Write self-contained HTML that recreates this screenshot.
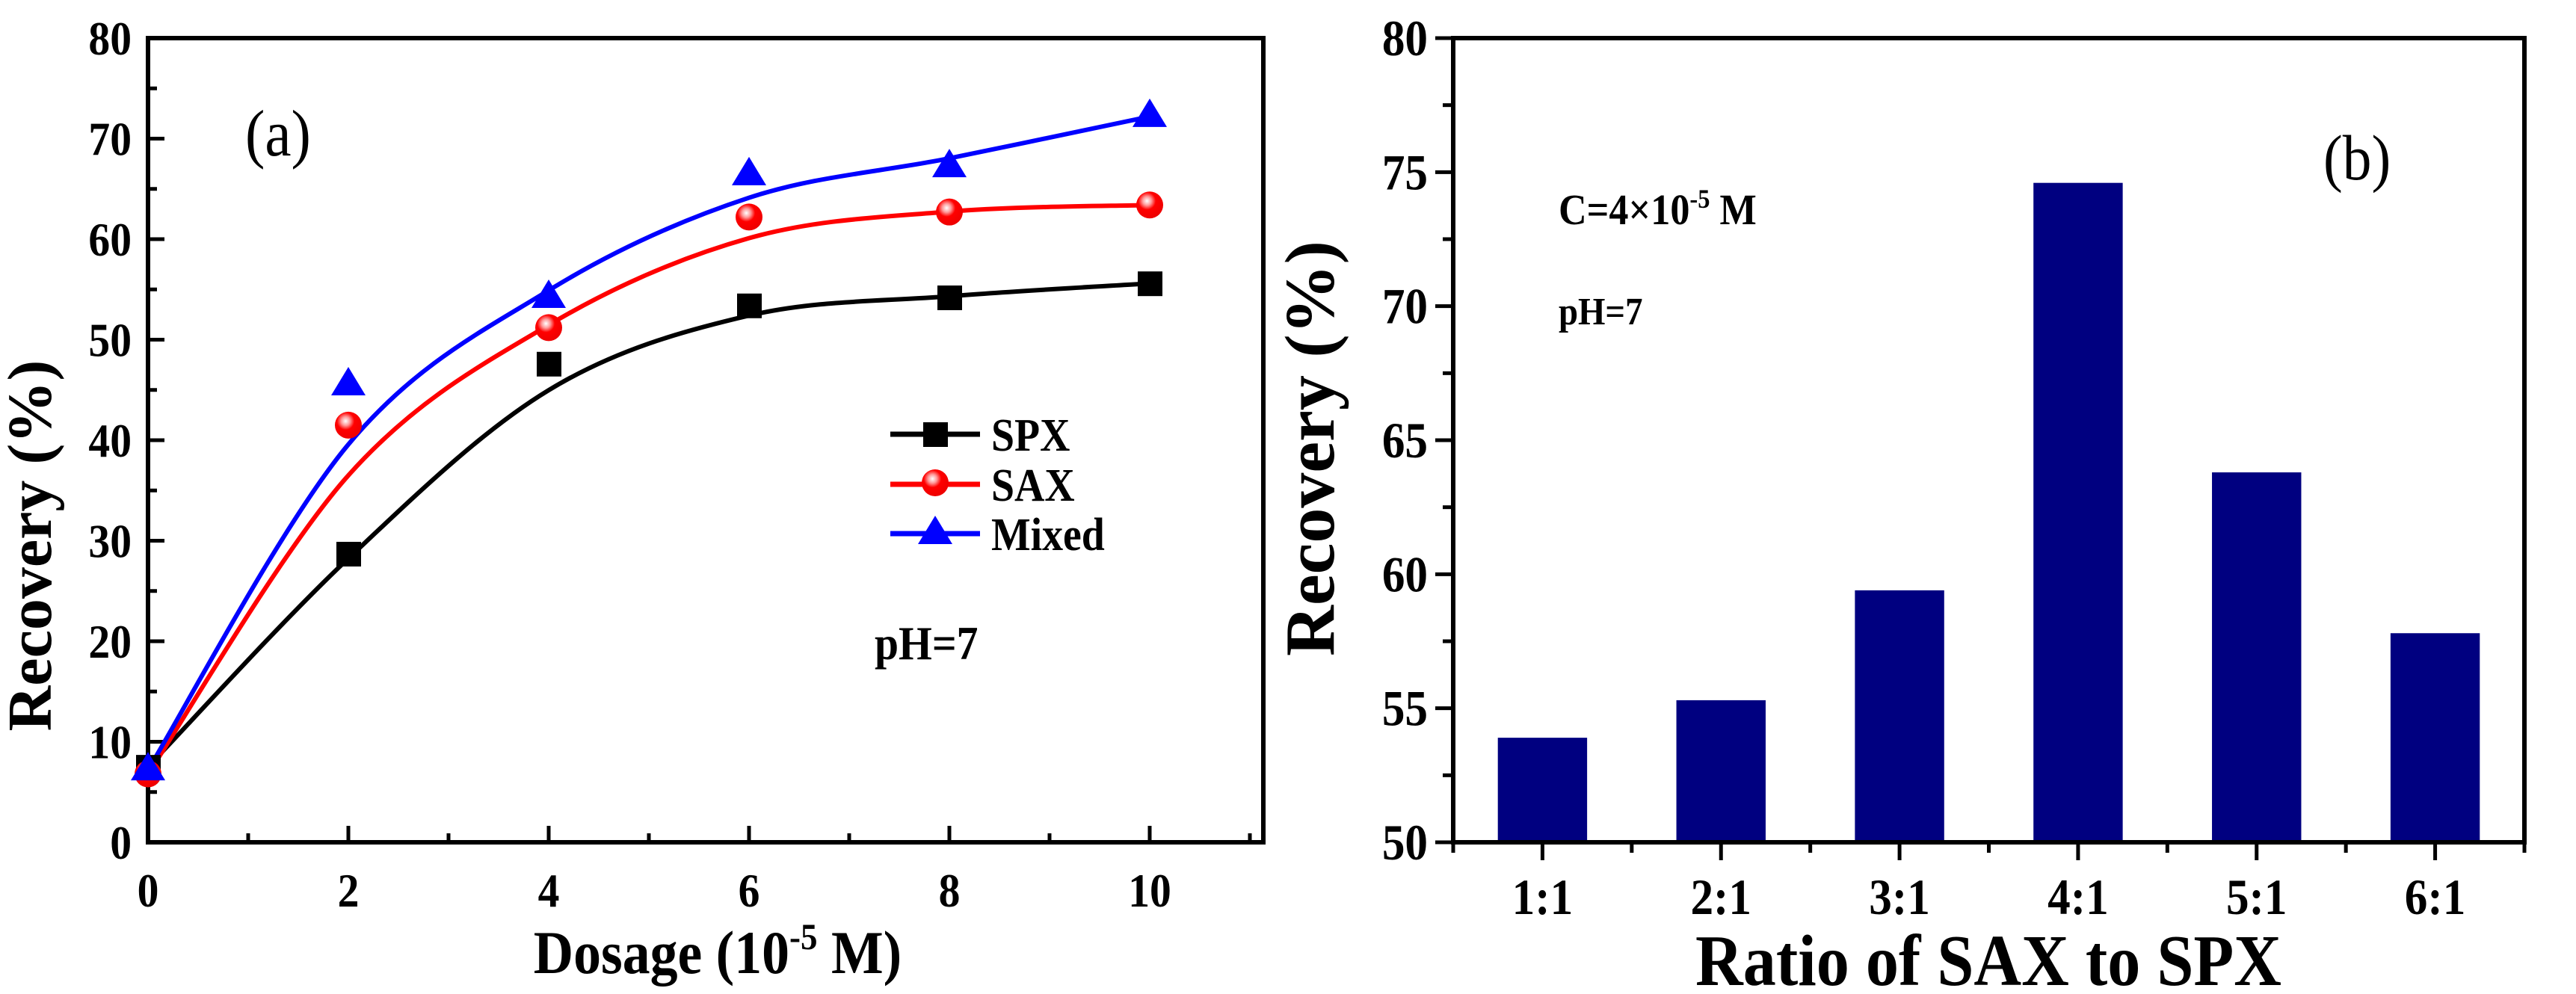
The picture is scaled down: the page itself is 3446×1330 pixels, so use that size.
<!DOCTYPE html>
<html><head><meta charset="utf-8">
<style>
html,body{margin:0;padding:0;background:#fff;}
svg{display:block;}
text{font-family:"Liberation Serif",serif;fill:#000;}
</style></head>
<body>
<svg id="fig" width="3446" height="1330" viewBox="0 0 3446 1330" xmlns="http://www.w3.org/2000/svg">
<defs>
<radialGradient id="ballGrad" cx="0.4" cy="0.35" r="0.65">
<stop offset="0" stop-color="#ffffff"/>
<stop offset="0.25" stop-color="#ff9a9a"/>
<stop offset="0.5" stop-color="#ff0000"/>
<stop offset="1" stop-color="#ee0000"/>
</radialGradient>
</defs>
<g id="panelA"></g>
<g id="panelB"></g>
</svg>
<script>
// ---- Panel (a) data ----
const dosage = [0, 2, 4, 6, 8, 10];
const spxValues = [7.5, 28.7, 47.6, 53.4, 54.2, 55.6];
const saxValues = [6.8, 41.5, 51.2, 62.2, 62.7, 63.4];
const mixedValues = [7.2, 45.5, 54.2, 66.4, 67.2, 72.2];
const aYTicks = [0, 10, 20, 30, 40, 50, 60, 70, 80];
const aXTicks = [0, 2, 4, 6, 8, 10];
// ---- Panel (b) data ----
const ratioLabels = ["1:1", "2:1", "3:1", "4:1", "5:1", "6:1"];
const ratioValues = [53.9, 55.3, 59.4, 74.6, 63.8, 57.8];
const bYTicks = [50, 55, 60, 65, 70, 75, 80];

const NS = "http://www.w3.org/2000/svg";
function mk(tag, attrs, parent) {
  const e = document.createElementNS(NS, tag);
  for (const k in attrs) e.setAttribute(k, attrs[k]);
  parent.appendChild(e);
  return e;
}
function txt(parent, x, y, s, size, weight, anchor, sx) {
  const t = mk("text", {x: 0, y: 0, "font-size": size, "font-weight": weight, "text-anchor": anchor,
    transform: "translate(" + x + "," + y + ") scale(" + (sx || 0.9) + ",1)"}, parent);
  t.textContent = s;
  return t;
}

// ===== Panel A =====
const A = document.getElementById("panelA");
const aL = 198, aR = 1690, aT = 51, aB = 1127;
const ax = v => aL + v * (1538 - aL) / 10;
const ay = v => aB - v * (aB - aT) / 80;

for (let v = 0; v <= 80; v += 5) {
  const major = v % 10 === 0;
  const t = mk("line", {x1: aL, x2: aL + (major ? 22 : 12), y1: ay(v), y2: ay(v), stroke: "#000", "stroke-width": 5}, A);
  
  
}
for (let v = 0; v <= 11; v += 1) {
  const major = v % 2 === 0;
  const t = mk("line", {x1: ax(v), x2: ax(v), y1: aB, y2: aB - (major ? 22 : 12), stroke: "#000", "stroke-width": 5}, A);
  
  
}
aYTicks.forEach(v => {
  const t = txt(A, aL - 22, ay(v) + 22, String(v), 64, "bold", "end");
  
  
});
aXTicks.forEach(v => {
  const t = txt(A, ax(v), aB + 86, String(v), 64, "bold", "middle");
  
  
});
const aFrame = mk("rect", {x: aL, y: aT, width: aR - aL, height: aB - aT, fill: "none", stroke: "#000", "stroke-width": 6}, A);



function curvePath(xs, ys) {
  const sm = ys.map((v, i) => (i === 0 || i === ys.length - 1) ? v : 0.2 * ys[i - 1] + 0.6 * v + 0.2 * ys[i + 1]);
  const P = xs.map((x, i) => [ax(x), ay(sm[i])]);
  let d = "M" + P[0][0] + "," + P[0][1];
  for (let i = 0; i < P.length - 1; i++) {
    const p0 = P[Math.max(0, i - 1)], p1 = P[i], p2 = P[i + 1], p3 = P[Math.min(P.length - 1, i + 2)];
    const c1 = [p1[0] + (p2[0] - p0[0]) / 6, p1[1] + (p2[1] - p0[1]) / 6];
    const c2 = [p2[0] - (p3[0] - p1[0]) / 6, p2[1] - (p3[1] - p1[1]) / 6];
    d += " C" + c1[0] + "," + c1[1] + " " + c2[0] + "," + c2[1] + " " + p2[0] + "," + p2[1];
  }
  return d;
}
const series = [
  {name: "spx", vals: spxValues, color: "#000000", marker: "square"},
  {name: "sax", vals: saxValues, color: "#ff0000", marker: "circle"},
  {name: "mixed", vals: mixedValues, color: "#0000ff", marker: "triangle"}
];
function marker(parent, type, cx, cy) {
  let m;
  if (type === "square") m = mk("rect", {x: cx - 16, y: cy - 16, width: 33, height: 33, fill: "#000"}, parent);
  else if (type === "circle") m = mk("circle", {cx: cx, cy: cy, r: 18, fill: "url(#ballGrad)"}, parent);
  else m = mk("polygon", {points: (cx) + "," + (cy - 24) + " " + (cx - 23) + "," + (cy + 14) + " " + (cx + 23) + "," + (cy + 14), fill: "#0000ff"}, parent);
  return m;
}
series.forEach(s => {
  const p = mk("path", {d: curvePath(dosage, s.vals), fill: "none", stroke: s.color, "stroke-width": 6}, A);
  
  
});
series.forEach(s => {
  s.vals.forEach((v, i) => {
    const m = marker(A, s.marker, ax(dosage[i]), ay(v));
    
    
  });
});
const legendY = [581, 648, 714];
const legendNames = ["SPX", "SAX", "Mixed"];
series.forEach((s, i) => {
  const g = mk("g", {}, A);
  
  
  mk("line", {x1: 1191, x2: 1311, y1: legendY[i], y2: legendY[i], stroke: s.color, "stroke-width": 7}, g);
  marker(g, s.marker, 1251, legendY[i] - (s.marker === "circle" ? 2 : 0));
  txt(g, 1326, legendY[i] + 22, legendNames[i], 62, "bold", "start");
});
let t;
t = txt(A, 1170, 882, "pH=7", 64, "bold", "start");


t = txt(A, 328, 208, "(a)", 88, "normal", "start");


t = mk("text", {x: 0, y: 0, "font-size": 84, "font-weight": "bold", "text-anchor": "middle", transform: "translate(68,730) rotate(-90)"}, A);
t.textContent = "Recovery (%)";


t = mk("text", {x: 0, y: 0, "font-size": 82, "font-weight": "bold", "text-anchor": "middle", transform: "translate(960,1302) scale(0.9,1)"}, A);
t.innerHTML = 'Dosage (10<tspan font-size="50" dy="-32">-5</tspan><tspan dy="32"> M)</tspan>';



// ===== Panel B =====
const B = document.getElementById("panelB");
const bL = 1944, bR = 3377, bT = 51, bB = 1127;
const bx = c => bL + (c - 0.5) * (bR - bL) / 6;
const by = v => bB - (v - 50) * (bB - bT) / 30;

ratioValues.forEach((v, i) => {
  const w = 0.5 * (bR - bL) / 6;
  const r = mk("rect", {x: bx(i + 1) - w / 2, y: by(v), width: w, height: bB - by(v), fill: "#000080"}, B);
  
  
});
for (let v = 50; v <= 80; v += 2.5) {
  const major = v % 5 === 0;
  const tk = mk("line", {x1: bL, x2: bL - (major ? 24 : 14), y1: by(v), y2: by(v), stroke: "#000", "stroke-width": 5}, B);
  
  
}
for (let c = 0.5; c <= 6.5; c += 0.5) {
  const major = Number.isInteger(c);
  const tk = mk("line", {x1: bx(c), x2: bx(c), y1: bB, y2: bB + (major ? 24 : 14), stroke: "#000", "stroke-width": 5}, B);
  
  
}
bYTicks.forEach(v => {
  const tl = txt(B, bL - 34, by(v) + 23, String(v), 68, "bold", "end");
  
  
});
ratioLabels.forEach((s, i) => {
  const tl = txt(B, bx(i + 1), bB + 96, s, 68, "bold", "middle");
  
  
});
const bFrame = mk("rect", {x: bL, y: bT, width: bR - bL, height: bB - bT, fill: "none", stroke: "#000", "stroke-width": 6}, B);


t = txt(B, 3108, 240, "(b)", 86, "normal", "start");


t = mk("text", {x: 0, y: 0, "font-size": 58, "font-weight": "bold", "text-anchor": "start", transform: "translate(2085,300) scale(0.9,1)"}, B);
t.innerHTML = 'C=4×10<tspan font-size="36" dy="-22">-5</tspan><tspan dy="22"> M</tspan>';


t = txt(B, 2085, 434, "pH=7", 52, "bold", "start");


t = mk("text", {x: 0, y: 0, "font-size": 94, "font-weight": "bold", "text-anchor": "middle", transform: "translate(1784,600) rotate(-90)"}, B);
t.textContent = "Recovery (%)";


t = txt(B, 2660, 1318, "Ratio of SAX to SPX", 98, "bold", "middle");


</script>
</body></html>
